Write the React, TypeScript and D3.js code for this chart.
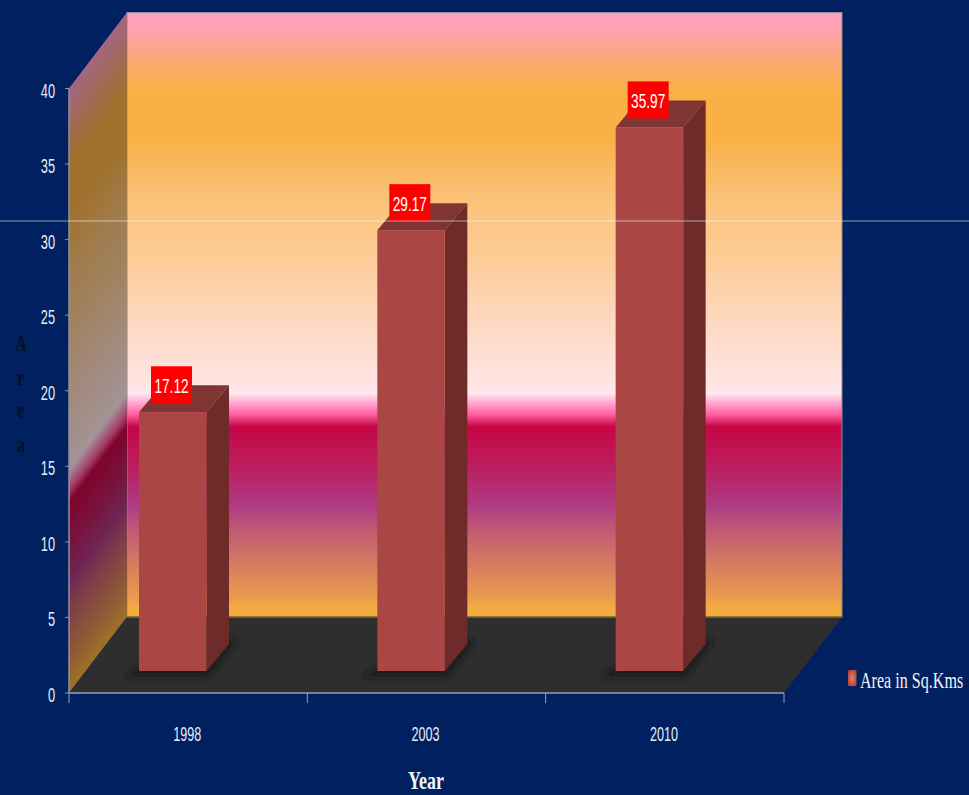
import React from "react";
import * as d3 from "d3";

// Chart data
const years = ["1998", "2003", "2010"];
const areas = [17.12, 29.17, 35.97];
const yTicks = [0, 5, 10, 15, 20, 25, 30, 35, 40];
const seriesName = "Area in Sq.Kms";

// Wall colours, top to bottom; offsets are fractions of the wall height
const wallStops: [number, string][] = [
  [0, "#FF9FC8"],
  [0.03, "#FEA2AE"],
  [0.08, "#FBA874"],
  [0.13, "#F9B146"],
  [0.21, "#F9B146"],
  [0.31, "#FBC27A"],
  [0.4, "#FCCB95"],
  [0.55, "#FEDDCF"],
  [0.6, "#FFE2DE"],
  [0.63, "#FFE8EE"],
  [0.648, "#FFA0CC"],
  [0.665, "#FF5FA0"],
  [0.685, "#C60645"],
  [0.755, "#BB2060"],
  [0.815, "#AE3A84"],
  [0.855, "#C05A74"],
  [0.92, "#D8805E"],
  [0.97, "#EC9C4E"],
  [0.985, "#F4AC40"],
  [1, "#F4AC40"],
];

const W = 969;
const H = 795;
const axisLeft = 69;
const axisRight = 784;
const wallDX = 58;
const wallDY = 76;
const barWidth = 67.5;
const barInset = 70;
const barLift = 22;
const barDX = 22.5;
const barDY = 27;

const y = d3.scaleLinear().domain([0, 40]).range([693, 88.5]);
const x = d3.scaleBand<string>().domain(years).range([axisLeft, axisRight]);

const poly = (pts: [number, number][]) => d3.line()(pts) + "Z";

const sans = "'Liberation Sans', sans-serif";
const serif = "'Liberation Serif', serif";

// Text squeezed horizontally about its anchor point
function Squeezed(props: {
  x: number;
  y: number;
  sx: number;
  size: number;
  anchor?: string;
  fill: string;
  font: string;
  weight?: string;
  children: React.ReactNode;
}) {
  return (
    <text
      transform={`translate(${props.x},${props.y}) scale(${props.sx},1)`}
      fontSize={props.size}
      textAnchor={props.anchor ?? "middle"}
      fill={props.fill}
      fontFamily={props.font}
      fontWeight={props.weight ?? "normal"}
    >
      {props.children}
    </text>
  );
}

export default function App() {
  const y0 = y(0);
  const yTop = y(40);
  const backX0 = axisLeft + wallDX;
  const backX1 = axisRight + wallDX;
  const backTop = yTop - wallDY;
  const backBottom = y0 - wallDY;
  const barBase = y0 - barLift;
  const skew = wallDY / wallDX;
  const sidePts: [number, number][] = [
    [axisLeft, yTop],
    [backX0, backTop],
    [backX0, backBottom],
    [axisLeft, y0],
  ];

  return (
    <svg
      width={W}
      height={H}
      viewBox={`0 0 ${W} ${H}`}
      style={{ position: "absolute", left: 0, top: 0, display: "block" }}
    >
      <defs>
        <linearGradient
          id="wall"
          gradientUnits="userSpaceOnUse"
          x1={0}
          x2={0}
          y1={backTop}
          y2={backBottom}
        >
          {wallStops.map(([o, c]) => (
            <stop key={o} offset={o} stopColor={c} />
          ))}
        </linearGradient>
        <linearGradient
          id="sideWall"
          href="#wall"
          gradientUnits="userSpaceOnUse"
          x1={0}
          x2={0}
          y1={backTop}
          y2={backBottom}
          gradientTransform={`matrix(1 ${-skew} 0 1 0 ${backX0 * skew})`}
        />
        <radialGradient id="swatch">
          <stop offset={0} stopColor="#E8806A" />
          <stop offset={1} stopColor="#B84A40" />
        </radialGradient>
        <filter id="floorShadow" x="-30%" y="-30%" width="160%" height="160%">
          <feGaussianBlur stdDeviation="3" />
        </filter>
      </defs>

      <rect width={W} height={H} fill="#002060" />

      {/* Back wall */}
      <rect
        x={backX0}
        y={backTop}
        width={backX1 - backX0}
        height={backBottom - backTop}
        fill="url(#wall)"
        stroke="#8C8C90"
        strokeWidth={1}
      />

      {/* Side wall, carrying the same gradient sheared along the depth */}
      <path d={poly(sidePts)} fill="url(#sideWall)" />
      <path d={poly(sidePts)} fill="#000" fillOpacity={0.36} />

      {/* Floor */}
      <path
        d={poly([
          [axisLeft, y0],
          [backX0, backBottom],
          [backX1, backBottom],
          [axisRight, y0],
        ])}
        fill="#2E2E2E"
      />
      <line
        x1={backX0}
        x2={backX1}
        y1={backBottom}
        y2={backBottom}
        stroke="#8A6A22"
        strokeWidth={1.5}
      />

      {/* Bars */}
      {years.map((yr, i) => {
        const left = (x(yr) as number) + barInset;
        const right = left + barWidth;
        const top = barBase - (y0 - y(areas[i]));
        return (
          <g key={yr}>
            <path
              d={poly([
                [left - 15, barBase + 6],
                [right + 2, barBase + 6],
                [right + barDX + 8, barBase - barDY - 4],
                [right + barDX - 6, barBase - barDY - 4],
                [left, barBase - 4],
              ])}
              fill="#141414"
              fillOpacity={0.85}
              filter="url(#floorShadow)"
            />
            <path
              d={poly([
                [left, top],
                [left + barDX, top - barDY],
                [right + barDX, top - barDY],
                [right, top],
              ])}
              fill="#803532"
            />
            <path
              d={poly([
                [right, top],
                [right + barDX, top - barDY],
                [right + barDX, barBase - barDY],
                [right, barBase],
              ])}
              fill="#6E2B2A"
            />
            <rect
              x={left}
              y={top}
              width={barWidth}
              height={barBase - top}
              fill="#AA4643"
            />
          </g>
        );
      })}

      {/* Axes */}
      <line x1={axisLeft} x2={axisLeft} y1={yTop} y2={y0} stroke="#8E939E" strokeWidth={1.5} />
      <line x1={axisLeft} x2={axisRight} y1={y0} y2={y0} stroke="#8FA3BE" strokeWidth={1.5} />
      {yTicks.map((t) => (
        <g key={t}>
          <line x1={axisLeft - 4} x2={axisLeft} y1={y(t)} y2={y(t)} stroke="#8E939E" />
          <Squeezed x={55} y={y(t) + 9} sx={0.64} size={20} anchor="end" fill="#E6ECF6" font={sans}>
            {t}
          </Squeezed>
        </g>
      ))}
      {[...years.map((yr) => x(yr) as number), axisRight].map((px) => (
        <line key={px} x1={px} x2={px} y1={y0} y2={y0 + 10} stroke="#8FA3BE" />
      ))}
      {years.map((yr) => (
        <Squeezed
          key={yr}
          x={(x(yr) as number) + barInset + barWidth / 2 + 14.5}
          y={741}
          sx={0.6}
          size={21}
          fill="#E6ECF6"
          font={sans}
        >
          {yr}
        </Squeezed>
      ))}

      {/* Value labels */}
      {years.map((yr, i) => {
        const left = (x(yr) as number) + barInset;
        const top = barBase - (y0 - y(areas[i]));
        return (
          <g key={yr}>
            <rect x={left + 12} y={top - 46} width={41} height={37} fill="#FF0000" />
            <Squeezed x={left + 32.5} y={top - 19} sx={0.65} size={21} fill="#FFFFFF" font={sans}>
              {areas[i].toFixed(2)}
            </Squeezed>
          </g>
        );
      })}

      {/* Axis titles */}
      {["A", "r", "e", "a"].map((c, i) => (
        <Squeezed key={i} x={21} y={351 + i * 33.5} sx={0.72} size={23} fill="#050F22" font={serif} weight="bold">
          {c}
        </Squeezed>
      ))}
      <Squeezed x={426} y={789} sx={0.72} size={25} fill="#F2F4F8" font={serif} weight="bold">
        Year
      </Squeezed>

      {/* Legend */}
      <rect x={848} y={670} width={8.5} height={16} rx={1.5} fill="url(#swatch)" />
      <Squeezed x={860} y={688} sx={0.7} size={23} anchor="start" fill="#F2F4F8" font={serif}>
        {seriesName}
      </Squeezed>

      {/* Thin rule across the whole figure */}
      <line x1={0} x2={W} y1={221} y2={221} stroke="#FFFFFF" strokeOpacity={0.55} strokeWidth={1} />
    </svg>
  );
}
